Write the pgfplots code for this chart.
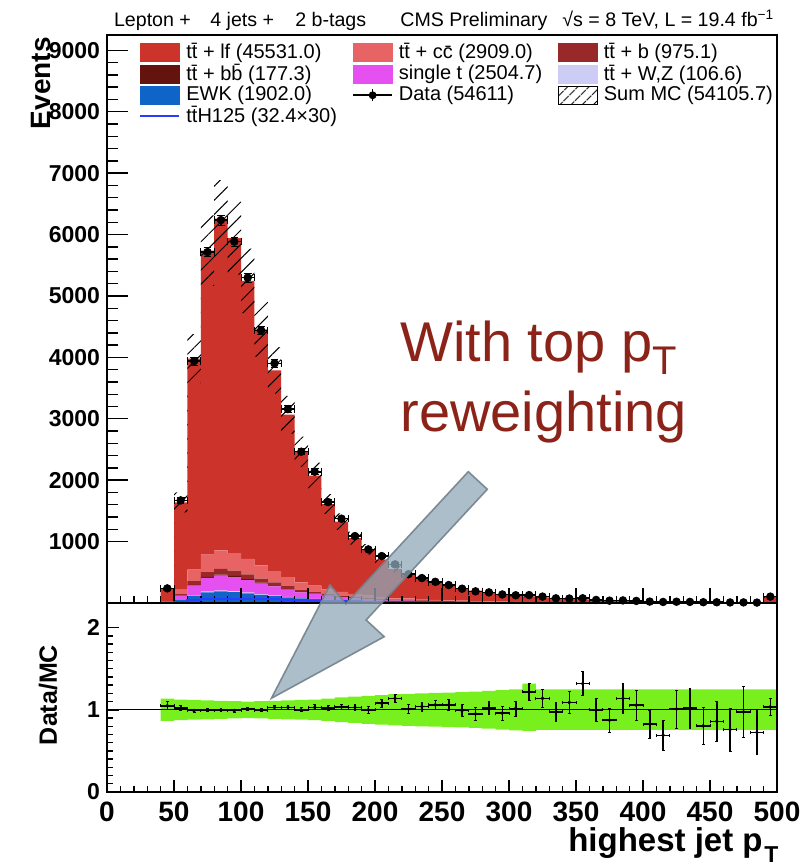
\documentclass[border=0pt]{standalone}
\usepackage{fontspec}
\setmainfont{Liberation Sans}
\usepackage{pgfplots}
\usepackage{pgfplotstable}
\pgfplotsset{compat=1.18}
\usetikzlibrary{patterns.meta}

\definecolor{ttlf}{RGB}{204,51,43}
\definecolor{ttcc}{RGB}{232,100,100}
\definecolor{ttb}{RGB}{153,40,40}
\definecolor{ttbb}{RGB}{100,20,15}
\definecolor{singlet}{RGB}{230,80,240}
\definecolor{ttv}{RGB}{204,204,245}
\definecolor{ewk}{RGB}{15,100,200}
\definecolor{tth}{RGB}{40,60,255}
\definecolor{bandgreen}{RGB}{120,240,30}
\definecolor{annot}{RGB}{140,35,25}
\definecolor{arrowfill}{RGB}{144,168,184}
\definecolor{arrowdraw}{RGB}{115,130,140}

% stacked MC (bin left edge)
\pgfplotstableread{
x ewk wz st bb b cc lf
0 0 0 0 0 0 0 0
10 0 0 0 0 0 0 0
20 0 0 0 0 0 0 0
30 0 0 0 0 0 0 0
40 6.8 0.5 8.9 0.7 3.4 10.9 195.8
50 49.1 3.3 63.9 4.9 24.6 78.6 1413.6
60 119.4 8.0 155.2 11.9 59.7 191.0 3434.8
70 172.1 11.5 223.8 17.2 86.1 275.4 4951.9
80 187.8 12.5 244.2 18.8 93.9 300.5 5403.3
90 178.3 11.9 231.8 17.8 89.1 285.3 5128.8
100 157.4 10.5 204.6 15.7 78.7 251.8 4527.3
110 133.7 8.9 173.9 13.4 66.9 214.0 3847.2
120 113.6 7.6 147.7 11.4 56.8 181.8 3269.1
130 92.0 6.1 119.6 9.2 46.0 147.2 2645.9
140 73.9 4.9 96.1 7.4 37.0 118.3 2126.4
150 62.3 4.2 81.0 6.2 31.1 99.6 1791.6
160 48.3 3.2 62.8 4.8 24.2 77.3 1390.4
170 39.8 2.7 51.7 4.0 19.9 63.6 1143.3
180 31.7 2.1 41.3 3.2 15.9 50.8 913.0
190 26.2 1.7 34.0 2.6 13.1 41.9 753.5
200 21.2 1.4 27.6 2.1 10.6 33.9 610.2
210 16.6 1.1 21.5 1.7 8.3 26.5 476.3
220 16.3 0.9 21.4 1.5 8.4 25.1 391.4
230 13.7 0.8 17.9 1.3 7.0 21.1 328.2
240 11.4 0.7 15.0 1.1 5.9 17.6 273.3
250 9.6 0.6 12.7 0.9 5.0 14.9 231.3
260 8.2 0.5 10.8 0.8 4.2 12.7 197.8
270 7.0 0.4 9.2 0.7 3.6 10.8 168.3
280 6.0 0.3 7.8 0.6 3.1 9.2 143.0
290 5.1 0.3 6.7 0.5 2.6 7.8 122.0
300 4.3 0.2 5.7 0.4 2.2 6.7 104.5
310 3.7 0.2 4.9 0.3 1.9 5.7 89.3
320 3.2 0.2 4.2 0.3 1.6 4.9 76.6
330 2.7 0.2 3.6 0.3 1.4 4.2 65.6
340 2.3 0.1 3.1 0.2 1.2 3.6 56.5
350 2.0 0.1 2.7 0.2 1.0 3.1 48.9
360 1.8 0.1 2.3 0.2 0.9 2.7 42.0
370 1.5 0.1 2.0 0.1 0.8 2.3 36.2
380 1.3 0.1 1.7 0.1 0.7 2.0 31.1
390 1.1 0.1 1.5 0.1 0.6 1.7 26.9
400 1.0 0.1 1.3 0.1 0.5 1.5 23.5
410 0.8 0 1.1 0.1 0.4 1.3 20.3
420 0.7 0 1.0 0.1 0.4 1.1 17.7
430 0.6 0 0.8 0.1 0.3 1.0 15.2
440 0.6 0 0.7 0.1 0.3 0.9 13.4
450 0.5 0 0.6 0 0.3 0.8 11.8
460 0.4 0 0.6 0 0.2 0.6 10.2
470 0.4 0 0.5 0 0.2 0.6 8.8
480 0.3 0 0.4 0 0.2 0.5 7.6
490 3.5 0.2 4.6 0.3 1.8 5.4 84.2
500 3.5 0.2 4.6 0.3 1.8 5.4 84.2
}\stacktab

% MC uncertainty band: lower edge and full width (bin left edge)
\pgfplotstableread{
x lo w
40 204 46
50 1474 328
60 3582 796
70 5164 1148
80 5635 1252
90 5349 1188
100 4721 1050
110 4012 892
120 3409 758
130 2759 614
140 2218 492
150 1868 416
160 1450 322
170 1192 266
180 952 212
190 786 174
200 636 142
210 497 110
220 418 94
230 351 78
240 292 66
250 247 56
260 211 48
270 180 40
280 153 34
290 130 30
300 109 30
310 93 26
320 80 22
330 69 18
340 59 16
350 51 14
360 44 12
370 38 10
380 32.6 8.8
390 28.2 7.6
400 24.6 6.8
410 21.1 5.8
420 18.5 5
430 15.8 4.4
440 14.1 3.8
450 12.3 3.4
460 10.6 2.8
470 9.2 2.6
480 7.9 2.2
490 88 24
500 88 24
}\unctab

% ttH x30 (bin left edge)
\pgfplotstableread{
x v
0 0
10 0
20 0
30 0
40 5
50 20
60 45
70 60
80 68
90 70
100 68
110 63
120 58
130 52
140 46
150 40
160 35
170 30
180 26
190 22
200 19
210 16
220 14
230 12
240 10
250 9
260 8
270 7
280 6
290 5
300 4.5
310 4
320 3.5
330 3
340 2.6
350 2.3
360 2
370 1.8
380 1.6
390 1.4
400 1.2
410 1.1
420 1
430 0.9
440 0.8
450 0.7
460 0.6
470 0.5
480 0.5
490 5
500 5
}\tthtab

% data (bin centre)
\pgfplotstableread{
xc y ey
45 238 15
55 1671 41
65 3940 63
75 5715 76
85 6236 79
95 5884 77
105 5298 73
115 4440 67
125 3902 62
135 3158 56
145 2464 50
155 2138 46
165 1643 41
175 1373 37
185 1090 33
195 873 30
205 764 28
215 629 25
225 470 22
235 406 20
245 345 19
255 292 17
265 233 15
275 190 14
285 173 13
295 139 12
305 126 11
315 129 11
325 104 10
335 76 9
345 73 9
355 77 9
365 50 7
375 38 6
385 42 6.5
395 34 6
405 23 5
415 17 4
425 21 4.6
435 18 4.2
445 13 3.6
455 12 3.5
465 9 3
475 10 3.2
485 7 2.6
495 104 10
}\datatab

% ratio (bin centre)
\pgfplotstableread{
xc r er
45 1.05 0.05
55 1.02 0.03
65 0.99 0.02
75 0.996 0.02
85 0.996 0.02
95 0.99 0.02
105 1.01 0.02
115 0.996 0.02
125 1.03 0.02
135 1.03 0.025
145 1.0 0.025
155 1.03 0.03
165 1.02 0.03
175 1.036 0.03
185 1.03 0.035
195 1.0 0.04
205 1.08 0.045
215 1.14 0.05
225 1.01 0.05
235 1.04 0.055
245 1.06 0.06
255 1.06 0.065
265 0.99 0.07
275 0.95 0.075
285 1.02 0.08
295 0.96 0.085
305 1.016 0.09
315 1.22 0.1
325 1.14 0.11
335 0.976 0.12
345 1.09 0.135
355 1.32 0.15
365 1.0 0.14
375 0.875 0.146
385 1.14 0.18
395 1.057 0.18
405 0.826 0.17
415 0.69 0.18
425 1.01 0.23
435 1.02 0.24
445 0.805 0.23
455 0.86 0.24
465 0.76 0.26
475 0.975 0.31
485 0.725 0.27
495 1.036 0.1
}\ratiotab

% ratio MC band: lower edge and full width (bin left edge)
\pgfplotstableread{
x lo w
40 0.865 0.27
50 0.875 0.25
60 0.88 0.24
70 0.885 0.23
80 0.89 0.22
90 0.895 0.21
100 0.90 0.20
110 0.895 0.21
120 0.89 0.22
130 0.885 0.23
140 0.88 0.24
150 0.875 0.25
160 0.865 0.27
170 0.85 0.30
180 0.84 0.32
190 0.83 0.34
200 0.82 0.36
210 0.81 0.38
220 0.805 0.39
230 0.80 0.40
240 0.795 0.41
250 0.79 0.42
260 0.785 0.43
270 0.78 0.44
280 0.77 0.46
290 0.76 0.48
300 0.75 0.50
310 0.74 0.58
320 0.755 0.495
330 0.755 0.495
340 0.755 0.495
350 0.755 0.495
360 0.755 0.495
370 0.755 0.495
380 0.755 0.495
390 0.755 0.495
400 0.755 0.495
410 0.755 0.495
420 0.755 0.495
430 0.755 0.495
440 0.755 0.495
450 0.755 0.495
460 0.755 0.495
470 0.755 0.495
480 0.755 0.495
490 0.755 0.495
500 0.755 0.495
}\bandtab

\newcommand{\swatch}[1]{\addlegendimage{legend image code/.code={\fill[#1] (0pt,-4.5pt) rectangle (19.5pt,4.5pt);}}}

\begin{document}
\begin{tikzpicture}
\useasboundingbox (-53.5pt,-37.5pt) rectangle (350pt,396pt);

% ---------- main panel: stacked MC ----------
\begin{axis}[
  at={(0pt,94.5pt)}, anchor=south west,
  width=335pt, height=284pt, scale only axis,
  xmin=0, xmax=500, ymin=0, ymax=9250,
  stack plots=y,
  xtick={0,50,...,500}, xticklabels={}, minor x tick num=4,
  ytick=\empty,
  tick align=inside, xtick pos=left,
  major tick length=7.5pt, minor tick length=3.5pt,
  tick style={black, line width=0.7pt},
  axis line style={line width=0.8pt},
  axis on top,
]
\addplot[const plot, fill=ewk, draw=none, forget plot] table[x=x,y=ewk]{\stacktab} \closedcycle;
\addplot[const plot, fill=ttv, draw=none, forget plot] table[x=x,y=wz]{\stacktab} \closedcycle;
\addplot[const plot, fill=singlet, draw=none, forget plot] table[x=x,y=st]{\stacktab} \closedcycle;
\addplot[const plot, fill=ttbb, draw=none, forget plot] table[x=x,y=bb]{\stacktab} \closedcycle;
\addplot[const plot, fill=ttb, draw=none, forget plot] table[x=x,y=b]{\stacktab} \closedcycle;
\addplot[const plot, fill=ttcc, draw=none, forget plot] table[x=x,y=cc]{\stacktab} \closedcycle;
\addplot[const plot, fill=ttlf, draw=none, forget plot] table[x=x,y=lf]{\stacktab} \closedcycle;
\end{axis}

% ---------- main panel: hatched MC uncertainty ----------
\begin{axis}[
  at={(0pt,94.5pt)}, anchor=south west,
  width=335pt, height=284pt, scale only axis,
  xmin=0, xmax=500, ymin=0, ymax=9250,
  stack plots=y, hide axis,
]
\addplot[const plot, draw=none, forget plot] table[x=x,y=lo]{\unctab};
\addplot[const plot, draw=none, forget plot, pattern={Lines[angle=45,distance=5pt,line width=0.5pt]}, pattern color=black] table[x=x,y=w]{\unctab} \closedcycle;
\end{axis}

% ---------- main panel: overlay (ttH, data, legend, y axis) ----------
\begin{axis}[
  at={(0pt,94.5pt)}, anchor=south west,
  width=335pt, height=284pt, scale only axis,
  xmin=0, xmax=500, ymin=0, ymax=9250,
  xtick=\empty,
  ytick={1000,2000,...,9000}, minor y tick num=4,
  tick align=inside, ytick pos=left,
  major tick length=10.5pt, minor tick length=5.5pt,
  tick style={black, line width=0.7pt},
  axis line style={line width=0.8pt},
  yticklabel style={font=\bfseries\fontsize{11.5}{12}\selectfont},
  /pgf/number format/1000 sep={},
  /pgf/number format/assume math mode=true,
  legend columns=3, legend cell align=left,
  legend style={at={(0,1)}, anchor=north west, xshift=16pt, yshift=-3.6pt,
    draw=none, fill=none, inner sep=0pt, outer sep=0pt,
    column sep=2.5pt, row sep=0.3pt,
    nodes={inner sep=0.5pt},
    font=\fontsize{10}{12}\selectfont},
]
\addplot[const plot, tth, line width=1pt, forget plot] table[x=x,y=v]{\tthtab};
\addplot[black, only marks, mark=*, mark size=1.9pt, forget plot,
  error bars/.cd, x dir=both, x fixed=5, y dir=both, y explicit,
  error bar style={line width=0.8pt}]
  table[x=xc,y=y,y error=ey]{\datatab};

\swatch{ttlf}\addlegendentry{\makebox[80pt][l]{t\={t} + lf (45531.0)}}
\swatch{ttcc}\addlegendentry{\makebox[76.5pt][l]{t\={t} + c\={c} (2909.0)}}
\swatch{ttb}\addlegendentry{t\={t} + b (975.1)}
\swatch{ttbb}\addlegendentry{\makebox[80pt][l]{t\={t} + b\={b} (177.3)}}
\swatch{singlet}\addlegendentry{\makebox[76.5pt][l]{single t (2504.7)}}
\swatch{ttv}\addlegendentry{t\={t} + W,Z (106.6)}
\swatch{ewk}\addlegendentry{\makebox[80pt][l]{EWK (1902.0)}}
\addlegendimage{legend image code/.code={
  \draw[black, line width=0.75pt] (0pt,0pt) -- (19.5pt,0pt);
  \draw[black, line width=0.75pt] (9.75pt,-3pt) -- (9.75pt,3pt);
  \fill[black] (9.75pt,0pt) circle (1.75pt);}}
\addlegendentry{\makebox[76.5pt][l]{Data (54611)}}
\addlegendimage{legend image code/.code={
  \draw[black, line width=0.5pt, pattern={Lines[angle=45,distance=4pt,line width=0.5pt]}] (0pt,-4.5pt) rectangle (19.5pt,4.5pt);}}
\addlegendentry{Sum MC (54105.7)}
\addlegendimage{legend image code/.code={\draw[tth, line width=1.2pt] (0pt,0pt) -- (19.5pt,0pt);}}
\addlegendentry{\makebox[80pt][l]{t\={t}H125 (32.4×30)}}
\end{axis}

% ---------- ratio panel: MC band ----------
\begin{axis}[
  at={(0pt,0pt)}, anchor=south west,
  width=335pt, height=94.5pt, scale only axis,
  xmin=0, xmax=500, ymin=0, ymax=2.3,
  stack plots=y, hide axis,
]
\addplot[const plot, draw=none, forget plot] table[x=x,y=lo]{\bandtab};
\addplot[const plot, draw=none, fill=bandgreen, forget plot] table[x=x,y=w]{\bandtab} \closedcycle;
\end{axis}

% ---------- ratio panel ----------
\begin{axis}[
  at={(0pt,0pt)}, anchor=south west,
  width=335pt, height=94.5pt, scale only axis,
  xmin=0, xmax=500, ymin=0, ymax=2.3,
  xtick={0,50,...,500}, minor x tick num=4,
  ytick={0,1,2}, minor y tick num=9,
  tick align=inside, xtick pos=left, ytick pos=left,
  major tick length=6pt, minor tick length=3pt,
  tick style={black, line width=0.7pt},
  axis line style={line width=0.8pt},
  xticklabel style={font=\bfseries\fontsize{14}{14}\selectfont, yshift=-1.3pt},
  yticklabel style={font=\bfseries\fontsize{11.5}{12}\selectfont},
  /pgf/number format/assume math mode=true,
]
\addplot[black, line width=0.5pt, forget plot] coordinates {(0,1) (500,1)};
\addplot[black, only marks, mark=*, mark size=0.7pt, forget plot,
  error bars/.cd, x dir=both, x fixed=5, y dir=both, y explicit,
  error bar style={line width=0.8pt}]
  table[x=xc,y=r,y error=er]{\ratiotab};
\end{axis}

% ---------- labels ----------
\node[anchor=base west, inner sep=0pt, font=\fontsize{9.8}{11}\selectfont] at (3.35pt,382.7pt) {Lepton +};
\node[anchor=base west, inner sep=0pt, font=\fontsize{9.8}{11}\selectfont] at (51.5pt,382.7pt) {4 jets +};
\node[anchor=base west, inner sep=0pt, font=\fontsize{9.8}{11}\selectfont] at (94pt,382.7pt) {2 b-tags};
\node[anchor=base west, inner sep=0pt, font=\fontsize{9.8}{11}\selectfont] at (146.5pt,382.7pt) {CMS Preliminary};
\node[anchor=base west, inner sep=0pt, font=\fontsize{9.8}{11}\selectfont] at (227.5pt,382.7pt) {√s = 8 TeV, L = 19.4 fb\textsuperscript{−1}};

\node[rotate=90, anchor=east, inner sep=0pt, font=\bfseries\fontsize{14}{14}\selectfont] at (-33pt,377.5pt) {Events};
\node[rotate=90, anchor=center, inner sep=0pt, font=\bfseries\fontsize{12.5}{13}\selectfont] at (-29.5pt,48.5pt) {Data/MC};
\node[anchor=base east, inner sep=0pt, font=\bfseries\fontsize{16.5}{17}\selectfont] at (328pt,-29.5pt) {highest jet p};
\node[anchor=base west, inner sep=0pt, font=\bfseries\fontsize{11.5}{12}\selectfont] at (328.5pt,-35.3pt) {T};

% ---------- annotation ----------
\filldraw[fill=arrowfill, fill opacity=0.75, draw=arrowdraw, draw opacity=0.9, line width=0.8pt, line join=miter]
  (82.2pt,46.85pt) -- (111.5pt,103.5pt) -- (119.4pt,94pt) -- (180.65pt,160.15pt)
  -- (190.15pt,151.35pt) -- (129.55pt,86pt) -- (138.6pt,77.65pt) -- cycle;
\node[anchor=base west, inner sep=0pt, text=annot, font=\fontsize{28}{28}\selectfont] at (146.5pt,215.15pt)
  {With top p\raisebox{-6.5pt}{\fontsize{20}{20}\selectfont T}};
\node[anchor=base west, inner sep=0pt, text=annot, font=\fontsize{28}{28}\selectfont] at (146.5pt,180.15pt) {reweighting};
\end{tikzpicture}
\end{document}
